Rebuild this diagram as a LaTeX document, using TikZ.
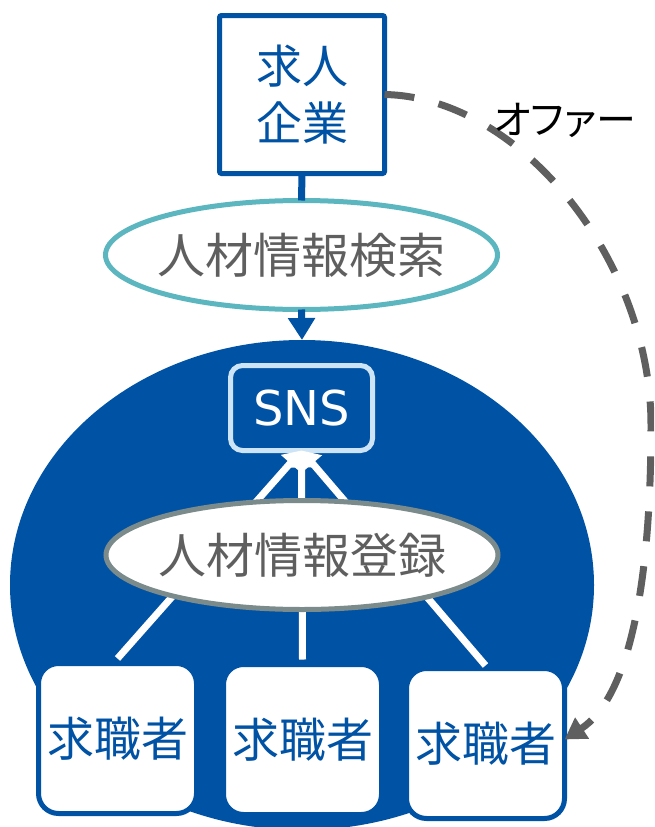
\documentclass[tikz,border=0pt]{standalone}
\usepackage{fontspec}
\newfontfamily\jp{Noto Sans CJK JP}
\newfontfamily\jpp[RawFeature=+palt]{Noto Sans CJK JP}
\newfontfamily\dv{DejaVu Sans}
\usetikzlibrary{shapes.geometric,arrows.meta}
\definecolor{mainblue}{RGB}{0,82,164}
\definecolor{tealring}{RGB}{91,182,192}
\definecolor{grayring}{RGB}{123,138,139}
\definecolor{snsborder}{RGB}{204,228,246}
\definecolor{textgray}{RGB}{95,95,95}
\definecolor{offergray}{RGB}{95,95,95}
\begin{document}
\begin{tikzpicture}[x=1pt,y=-1pt,
  every node/.style={inner sep=0pt, outer sep=0pt},
  seeker/.style={rectangle, draw=mainblue, line width=5pt, fill=white, rounded corners=20pt,
    minimum width=158pt, minimum height=150pt, text=mainblue,
    font=\fontsize{47pt}{56pt}\selectfont\jp},
  company/.style={rectangle, draw=mainblue, line width=5pt, fill=white, rounded corners=2pt,
    minimum width=165pt, minimum height=158pt, text=mainblue, align=center,
    font=\fontsize{46pt}{57pt}\selectfont\jp},
  snsbox/.style={rectangle, draw=snsborder, line width=5pt, fill=mainblue, rounded corners=12pt,
    minimum width=142pt, minimum height=85pt, text=white,
    font=\fontsize{48pt}{56pt}\selectfont\dv},
  oval/.style={ellipse, line width=5pt, fill=white, minimum width=392pt, minimum height=109pt,
    text=textgray, font=\fontsize{48pt}{56pt}\selectfont\jp},
  wline/.style={draw=white, line width=7pt, -{Triangle[length=17pt,width=24pt]}},
  bline/.style={draw=mainblue, line width=7pt},
  offer/.style={draw=offergray, line width=7pt, dash pattern=on 30pt off 25pt,
    -{Triangle[length=21pt,width=24pt]}},
  lbl/.style={text=black, font=\fontsize{40pt}{40pt}\selectfont\jpp}
]
\useasboundingbox (0,0) rectangle (654,827);
\clip (0,0) rectangle (654,827);
% big blue circle
\node[ellipse, fill=mainblue, minimum width=584pt, minimum height=490pt] (circ) at (302,585) {};
% SNS
\node[snsbox] (sns) at (301.5,408) {SNS};
% job seekers
\node[seeker] (s1) at (117.5,738.5) {求職者};
\node[seeker] (s2) at (302.5,739.5) {求職者};
\node[seeker] (s3) at (485.5,743.5) {求職者};
% white connectors
\draw[wline] ([yshift=5pt]s1.north) -- (sns.south);
\draw[wline] ([yshift=5pt]s2.north) -- (sns.south);
\draw[wline] ([yshift=3pt]s3.north) -- (sns.south);
% registration oval
\node[oval, draw=grayring] (reg) at (302,555) {\makebox[0pt]{人材情報登録}};
% company
\node[company] (comp) at (302,94.5) {求人\\企業};
% search oval
\node[oval, draw=tealring] (search) at (301.5,255) {\makebox[0pt]{人材情報検索}};
\draw[bline] (comp.south) -- (search.north);
\draw[bline, -{Triangle[length=22pt,width=26pt]}] (search.south) -- (circ.north);
% offer
\coordinate (bend) at (651,425);
\draw[offer] (comp.east) .. controls (520,97) and (651,260) .. (bend)
  .. controls (651,600) and (625,700) .. ([yshift=4pt]s3.east);
\node[lbl] (offerlbl) at (565,120) {オファー};
\end{tikzpicture}
\end{document}
